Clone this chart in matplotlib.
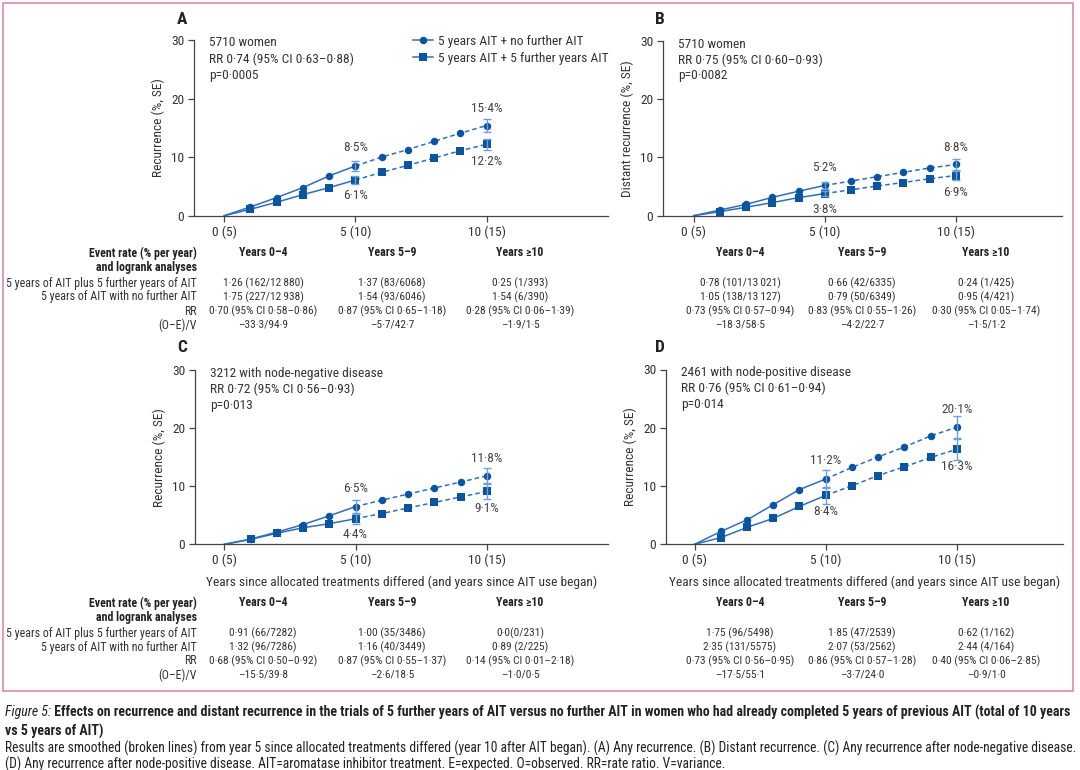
import matplotlib
matplotlib.use("Agg")
import matplotlib.pyplot as plt
from matplotlib import font_manager as fm
from matplotlib.lines import Line2D
from matplotlib.patches import Rectangle

# ---- fonts: prefer a condensed sans, like the journal's type
avail = {f.name for f in fm.fontManager.ttflist}
narrow = [n for n in ["Liberation Sans Narrow", "Roboto Condensed", "Open Sans Condensed"] if n in avail]
FONT = [narrow[0] if narrow else "Roboto", "DejaVu Sans"]
K = 1.0 if narrow else 0.82
plt.rcParams["font.family"] = FONT

# ---- data
years = [0, 1, 2, 3, 4, 5, 6, 7, 8, 9, 10]
xtick_vals = [0, 5, 10]
xtick_labels = ["0 (5)", "5 (10)", "10 (15)"]
yticks = [0, 10, 20, 30]

a_no_further = [0, 1.5, 3.1, 4.8, 6.8, 8.5, 10.0, 11.3, 12.7, 14.1, 15.4]
a_further = [0, 1.1, 2.3, 3.6, 4.8, 6.1, 7.4, 8.6, 9.85, 11.1, 12.2]
a_se_no_further = [0.9, 1.05]
a_se_further = [0.7, 0.95]
a_labels = ["8·5%", "6·1%", "15·4%", "12·2%"]
a_info = ["5710 women", "RR 0·74 (95% CI 0·63–0·88)", "p=0·0005"]

b_no_further = [0, 0.97, 1.95, 3.15, 4.2, 5.2, 5.95, 6.7, 7.45, 8.2, 8.8]
b_further = [0, 0.7, 1.45, 2.25, 3.1, 3.8, 4.45, 5.1, 5.7, 6.35, 6.9]
b_se_no_further = [0.6, 0.95]
b_se_further = [0.5, 0.8]
b_labels = ["5·2%", "3·8%", "8·8%", "6·9%"]
b_info = ["5710 women", "RR 0·75 (95% CI 0·60–0·93)", "p=0·0082"]

c_no_further = [0, 0.9, 2.1, 3.4, 4.9, 6.5, 7.6, 8.65, 9.7, 10.7, 11.8]
c_further = [0, 0.85, 1.9, 2.85, 3.55, 4.4, 5.3, 6.25, 7.2, 8.15, 9.1]
c_se_no_further = [1.15, 1.3]
c_se_further = [0.9, 1.3]
c_labels = ["6·5%", "4·4%", "11·8%", "9·1%"]
c_info = ["3212 with node-negative disease", "RR 0·72 (95% CI 0·56–0·93)", "p=0·013"]

d_no_further = [0, 2.2, 4.2, 6.8, 9.4, 11.2, 13.2, 15.0, 16.7, 18.6, 20.1]
d_further = [0, 1.15, 2.9, 4.45, 6.5, 8.4, 10.05, 11.8, 13.3, 14.9, 16.3]
d_se_no_further = [1.55, 1.85]
d_se_further = [1.45, 1.8]
d_labels = ["11·2%", "8·4%", "20·1%", "16·3%"]
d_info = ["2461 with node-positive disease", "RR 0·76 (95% CI 0·61–0·94)", "p=0·014"]

legend_labels = ["5 years AIT + no further AIT", "5 years AIT + 5 further years AIT"]
ylabel_any = "Recurrence (%, SE)"
ylabel_distant = "Distant recurrence (%, SE)"
xlabel = "Years since allocated treatments differed (and years since AIT use began)"

table_head = ["Event rate (% per year)", "and logrank analyses"]
table_cols = ["Years 0–4", "Years 5–9", "Years ≥10"]
table_rows = ["5 years of AIT plus 5 further years of AIT",
              "5 years of AIT with no further AIT", "RR", "(O–E)/V"]
TS = "\u2009"
a_table = [["1·26 (162/12" + TS + "880)", "1·37 (83/6068)", "0·25 (1/393)"],
           ["1·75 (227/12" + TS + "938)", "1·54 (93/6046)", "1·54 (6/390)"],
           ["0·70 (95% CI 0·58–0·86)", "0·87 (95% CI 0·65–1·18)", "0·28 (95% CI 0·06–1·39)"],
           ["–33·3/94·9", "–5·7/42·7", "–1·9/1·5"]]
b_table = [["0·78 (101/13" + TS + "021)", "0·66 (42/6335)", "0·24 (1/425)"],
           ["1·05 (138/13" + TS + "127)", "0·79 (50/6349)", "0·95 (4/421)"],
           ["0·73 (95% CI 0·57–0·94)", "0·83 (95% CI 0·55–1·26)", "0·30 (95% CI 0·05–1·74)"],
           ["–18·3/58·5", "–4·2/22·7", "–1·5/1·2"]]
c_table = [["0·91 (66/7282)", "1·00 (35/3486)", "0·0(0/231)"],
           ["1·32 (96/7286)", "1·16 (40/3449)", "0·89 (2/225)"],
           ["0·68 (95% CI 0·50–0·92)", "0·87 (95% CI 0·55–1·37)", "0·14 (95% CI 0·01–2·18)"],
           ["–15·5/39·8", "–2·6/18·5", "–1·0/0·5"]]
d_table = [["1·75 (96/5498)", "1·85 (47/2539)", "0·62 (1/162)"],
           ["2·35 (131/5575)", "2·07 (53/2562)", "2·44 (4/164)"],
           ["0·73 (95% CI 0·56–0·95)", "0·86 (95% CI 0·57–1·28)", "0·40 (95% CI 0·06–2·85)"],
           ["–17·5/55·1", "–3·7/24·0", "–0·9/1·0"]]

caption_1 = ("Figure 5:", " Effects on recurrence and distant recurrence in the trials of 5 further years of AIT "
             "versus no further AIT in women who had already completed 5 years of previous AIT (total of 10 years")
caption_2 = "vs 5 years of AIT)"
caption_3 = ("Results are smoothed (broken lines) from year 5 since allocated treatments differed (year 10 after AIT began). "
             "(A) Any recurrence. (B) Distant recurrence. (C) Any recurrence after node-negative disease.")
caption_4 = ("(D) Any recurrence after node-positive disease. AIT=aromatase inhibitor treatment. "
             "E=expected. O=observed. RR=rate ratio. V=variance.")

# ---- styling
MARK = "#0b55a0"
LINE = "#2f6fba"
ERR = "#6aa3dc"
TXT = "#333333"
FS = 9.6 * K
TFS = 8.6 * K   # table row labels / headers
VFS = 8.2 * K   # table values

W, H = 1080, 770
fig = plt.figure(figsize=(W / 100, H / 100), dpi=100)


def fx(x):
    return x / W


def fy(y):
    return 1 - y / H


# axes boxes in pixels: left, top, right, bottom ; and x limits
boxes = {"A": (194, 40, 608, 215.7), "B": (663, 41, 1062, 215.7),
         "C": (195, 370, 608, 544.3), "D": (666, 369.5, 1063, 544.3)}
xlims = {"A": (-1.15, 14.62), "B": (-1.17, 14.05), "C": (-1.12, 14.62), "D": (-1.09, 14.05)}


def make_ax(key):
    l, t, r, b = boxes[key]
    ax = fig.add_axes([fx(l), fy(b), (r - l) / W, (b - t) / H])
    ax.set_xlim(*xlims[key])
    ax.set_ylim(0, 30)
    for s in ["top", "right"]:
        ax.spines[s].set_visible(False)
    for s in ["left", "bottom"]:
        ax.spines[s].set_color("#444444")
        ax.spines[s].set_linewidth(0.9)
    ax.set_xticks(xtick_vals)
    ax.set_xticklabels(xtick_labels)
    ax.set_yticks(yticks)
    ax.tick_params(length=4, width=0.9, color="#444444", labelsize=FS, labelcolor=TXT, pad=3)
    ax.patch.set_alpha(0)
    return ax


def draw(ax, key, nofu, fu, se_no, se_fu, labels, info, ylabel):
    for vals in (nofu, fu):
        ax.plot(years[:6], vals[:6], "-", color=LINE, lw=1.1, zorder=2)
        ax.plot(years[5:], vals[5:], color=LINE, lw=1.1, dashes=(3, 2), zorder=2)
    ax.plot(years[1:], nofu[1:], "o", color=MARK, ms=5.4, mew=0, zorder=3)
    ax.plot(years[1:], fu[1:], "s", color=MARK, ms=5.6, mew=0, zorder=3)
    ax.errorbar([5, 10], [nofu[5], nofu[10]], yerr=se_no, fmt="none", ecolor=ERR,
                elinewidth=1, capsize=3, capthick=1, zorder=4)
    ax.errorbar([5, 10], [fu[5], fu[10]], yerr=se_fu, fmt="none", ecolor=ERR,
                elinewidth=1, capsize=3, capthick=1, zorder=4)
    pts = [(5, nofu[5], 13), (5, fu[5], -11.5), (10, nofu[10], 12.5), (10, fu[10], -12.5)]
    for (x, y, dy), lab in zip(pts, labels):
        ax.annotate(lab, (x, y), xytext=(0, dy), textcoords="offset points",
                    ha="center", va="center", fontsize=FS, color="#444444")
    l, t, r, b = boxes[key]
    for i, line in enumerate(info):
        fig.text(fx(l + 15), fy(t + 3 + 16 * i), line, fontsize=FS, color=TXT, ha="left", va="center")
    ax.set_ylabel(ylabel, fontsize=FS, color=TXT, labelpad=4)


panels = [("A", a_no_further, a_further, a_se_no_further, a_se_further, a_labels, a_info, ylabel_any),
          ("B", b_no_further, b_further, b_se_no_further, b_se_further, b_labels, b_info, ylabel_distant),
          ("C", c_no_further, c_further, c_se_no_further, c_se_further, c_labels, c_info, ylabel_any),
          ("D", d_no_further, d_further, d_se_no_further, d_se_further, d_labels, d_info, ylabel_any)]
letter_pos = {"A": (182, 20), "B": (660, 20), "C": (182, 347), "D": (660, 347)}

axes = {}
for key, nofu, fu, se_no, se_fu, labels, info, ylab in panels:
    ax = make_ax(key)
    draw(ax, key, nofu, fu, se_no, se_fu, labels, info, ylab)
    lx, ly = letter_pos[key]
    fig.text(fx(lx), fy(ly), key, fontsize=12.5 * K, fontweight="bold", color="#222222",
             ha="center", va="center")
    axes[key] = ax

for key in ("C", "D"):
    axes[key].set_xlabel(xlabel, fontsize=FS, color=TXT, labelpad=6)

handles = [Line2D([], [], color=LINE, lw=1.1, marker="o", ms=5.4, mfc=MARK, mew=0),
           Line2D([], [], color=LINE, lw=1.1, marker="s", ms=5.6, mfc=MARK, mew=0)]
axes["A"].legend(handles, legend_labels, loc="upper left", bbox_to_anchor=(fx(413), fy(35)),
                 bbox_transform=fig.transFigure, frameon=False, fontsize=FS, handlelength=1.5,
                 handletextpad=0.4, labelspacing=0.3, borderaxespad=0, borderpad=0,
                 labelcolor=TXT)

# ---- tables under each panel
row_y = {"A": 253, "B": 253, "C": 603, "D": 603}
col_x = {"A": (263, 392, 520), "B": (740, 862, 986), "C": (263, 392, 520), "D": (740, 862, 986)}
tables = {"A": a_table, "B": b_table, "C": c_table, "D": d_table}
for key, tab in tables.items():
    y0 = row_y[key]
    ys = [y0 + 30 + 14 * i for i in range(4)]
    if key in ("A", "C"):
        fig.text(fx(197), fy(y0), table_head[0], fontsize=TFS, fontweight="bold", color="#222222",
                 ha="right", va="center")
        fig.text(fx(197), fy(y0 + 14), table_head[1], fontsize=TFS, fontweight="bold", color="#222222",
                 ha="right", va="center")
        for yy, lab in zip(ys, table_rows):
            fig.text(fx(197), fy(yy), lab, fontsize=TFS, color=TXT, ha="right", va="center")
    for cx, head in zip(col_x[key], table_cols):
        fig.text(fx(cx), fy(y0), head, fontsize=TFS, fontweight="bold", color="#222222",
                 ha="center", va="center")
    for yy, row in zip(ys, tab):
        for cx, val in zip(col_x[key], row):
            fig.text(fx(cx), fy(yy), val, fontsize=VFS, color=TXT, ha="center", va="center")

# ---- pink frame
fig.patches.append(Rectangle((fx(3), fy(691)), (1073 - 3) / W, (691 - 3) / H, transform=fig.transFigure,
                             fill=False, edgecolor="#e692ab", lw=1.3))

# ---- caption, sized to fit the measured line widths
renderer = fig.canvas.get_renderer()


def put_parts(parts, x0, y, fs):
    arts, x = [], x0
    for text, kw in parts:
        t = fig.text(fx(x), fy(y), text, fontsize=fs, ha="left", va="center", color="#222222", **kw)
        x += t.get_window_extent(renderer).width
        arts.append(t)
    return arts, x - x0


def fit_parts(parts, x0, y, target, fs0=10):
    arts, w = put_parts(parts, x0, y, fs0)
    for a in arts:
        a.remove()
    fs = fs0 * target / w
    put_parts(parts, x0, y, fs)
    return fs


fs1 = fit_parts([(caption_1[0], {"fontstyle": "italic"}), (caption_1[1], {"fontweight": "bold"})],
                5, 712, 1063)
put_parts([(caption_2, {"fontweight": "bold"})], 5, 731, fs1)
fs3 = fit_parts([(caption_3, {})], 5, 748, 1067)
put_parts([(caption_4, {})], 5, 764, fs3)

fig.savefig("out.png", dpi=100)
